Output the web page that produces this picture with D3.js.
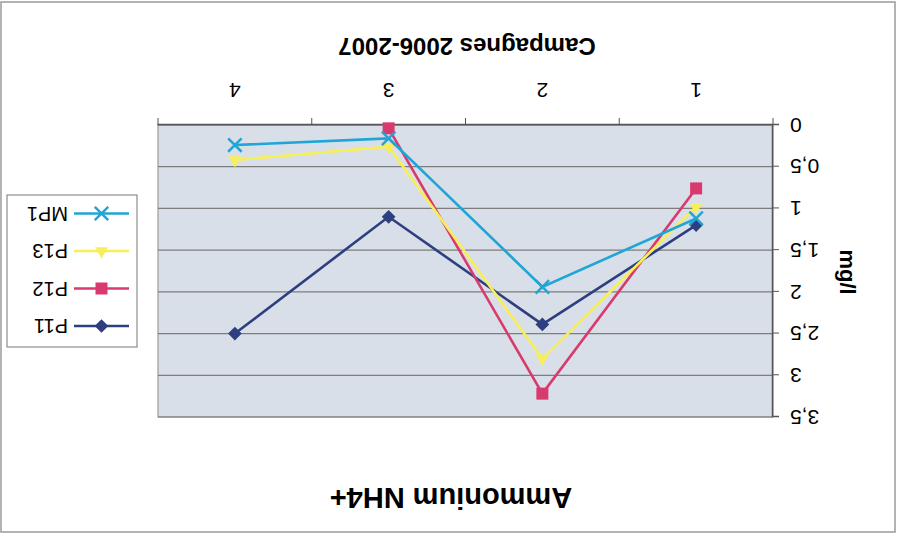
<!DOCTYPE html>
<html>
<head>
<meta charset="utf-8">
<script src="https://cdn.jsdelivr.net/npm/d3@7"></script>
<style>
  body { margin: 0; background: #fff; }
  text { font-family: "Liberation Sans", Arial, sans-serif; fill: #000; }
</style>
</head>
<body>
<svg width="897" height="540"></svg>
<script>
var campagnes = [1, 2, 3, 4];
var yTicks = [0, 0.5, 1, 1.5, 2, 2.5, 3, 3.5];
var p11 = [1.2, 2.39, 1.1, 2.5];
var p12 = [0.76, 3.22, 0.04, null];
var p13 = [0.98, 2.8, 0.26, 0.42];
var mp1 = [1.12, 1.94, 0.16, 0.24];

var series = [
  { name: 'P11', values: p11, color: '#2e3f80', marker: 'diamond' },
  { name: 'P12', values: p12, color: '#d93a6e', marker: 'square' },
  { name: 'P13', values: p13, color: '#f7ef5a', marker: 'triangle' },
  { name: 'MP1', values: mp1, color: '#1fa6d6', marker: 'cross' }
];

var svg = d3.select('svg'),
  width = +svg.attr('width'),
  height = +svg.attr('height');

svg.append('rect').attr('width', width).attr('height', height).attr('fill', '#fff');

// the whole scan is turned upside down
var g = svg.append('g').attr('transform', 'rotate(180 ' + width / 2 + ' ' + height / 2 + ')');

g.append('rect')
  .attr('x', 2).attr('y', 8)
  .attr('width', 894).attr('height', 530)
  .attr('fill', '#fff')
  .attr('stroke', '#9a9a9a')
  .attr('stroke-width', 1.5);

var plot = { left: 124, right: 739, top: 123, bottom: 415 };

var x = d3.scaleBand().domain(campagnes).range([plot.left, plot.right]);
var y = d3.scaleLinear().domain([0, 3.5]).range([plot.bottom, plot.top]);

g.append('rect')
  .attr('x', plot.left).attr('y', plot.top)
  .attr('width', plot.right - plot.left).attr('height', plot.bottom - plot.top)
  .attr('fill', '#d8dfe8')
  .attr('stroke', '#8a8a8a');

// gridlines
g.append('g')
  .selectAll('line')
  .data(yTicks)
  .enter()
  .append('line')
  .attr('x1', plot.left).attr('x2', plot.right)
  .attr('y1', function (d) { return y(d); })
  .attr('y2', function (d) { return y(d); })
  .attr('stroke', '#7d7d7d')
  .attr('stroke-width', 1.2);

// y axis
var yAxis = g.append('g')
  .attr('transform', 'translate(' + plot.left + ',0)')
  .call(d3.axisLeft(y).tickValues(yTicks).tickSize(6).tickPadding(11)
    .tickFormat(function (d) { return String(d).replace('.', ','); }));
yAxis.select('.domain').attr('stroke', '#555').attr('stroke-width', 1.5);
yAxis.selectAll('.tick line').attr('stroke', '#555');
yAxis.selectAll('.tick text').style('font-size', '21px');

// x axis: labels centred, tick marks between categories
var xAxis = g.append('g')
  .attr('transform', 'translate(0,' + plot.bottom + ')')
  .call(d3.axisBottom(x).tickSize(0).tickPadding(27));
xAxis.select('.domain').attr('stroke', '#555').attr('stroke-width', 1.5);
xAxis.selectAll('.tick text').style('font-size', '21px');

var edges = campagnes.map(function (c) { return x(c); }).concat([plot.right]);
g.append('g')
  .selectAll('line')
  .data(edges)
  .enter()
  .append('line')
  .attr('x1', function (d) { return d; })
  .attr('x2', function (d) { return d; })
  .attr('y1', plot.bottom).attr('y2', plot.bottom + 7)
  .attr('stroke', '#555');

function cx(i) { return x(campagnes[i]) + x.bandwidth() / 2; }

var line = d3.line()
  .defined(function (d) { return d != null; })
  .x(function (d, i) { return cx(i); })
  .y(function (d) { return y(d); });

function drawMarker(sel, type, color, px, py) {
  if (type === 'diamond') {
    sel.append('path').attr('d', d3.symbol(d3.symbolDiamond2, 120)())
      .attr('transform', 'translate(' + px + ',' + py + ')').attr('fill', color);
  } else if (type === 'square') {
    sel.append('rect').attr('x', px - 6).attr('y', py - 6)
      .attr('width', 12).attr('height', 12).attr('fill', color);
  } else if (type === 'triangle') {
    sel.append('path').attr('d', d3.symbol(d3.symbolTriangle2, 120)())
      .attr('transform', 'translate(' + px + ',' + py + ')').attr('fill', color);
  } else {
    sel.append('path').attr('d', d3.symbol(d3.symbolTimes, 120)())
      .attr('transform', 'translate(' + px + ',' + py + ')')
      .attr('fill', 'none').attr('stroke', color).attr('stroke-width', 2.5);
  }
}

series.forEach(function (s) {
  g.append('path')
    .datum(s.values)
    .attr('d', line)
    .attr('fill', 'none')
    .attr('stroke', s.color)
    .attr('stroke-width', 2.6);
  var mg = g.append('g');
  s.values.forEach(function (v, i) {
    if (v != null) drawMarker(mg, s.marker, s.color, cx(i), y(v));
  });
});

// titles
g.append('text')
  .attr('x', 446).attr('y', 52)
  .attr('text-anchor', 'middle')
  .style('font-size', '29px').style('font-weight', 'bold')
  .text('Ammonium NH4+');

g.append('text')
  .attr('x', 430).attr('y', 502)
  .attr('text-anchor', 'middle')
  .style('font-size', '24px').style('font-weight', 'bold')
  .text('Campagnes 2006-2007');

g.append('text')
  .attr('transform', 'translate(57,268) rotate(-90)')
  .attr('text-anchor', 'middle')
  .style('font-size', '22px').style('font-weight', 'bold')
  .text('mg/l');

// legend
var legend = g.append('g');
legend.append('rect')
  .attr('x', 760).attr('y', 193)
  .attr('width', 130).attr('height', 152)
  .attr('fill', '#fff')
  .attr('stroke', '#777');

series.forEach(function (s, i) {
  var ly = 214 + i * 37.5;
  legend.append('line')
    .attr('x1', 768).attr('x2', 823)
    .attr('y1', ly).attr('y2', ly)
    .attr('stroke', s.color).attr('stroke-width', 2.6);
  drawMarker(legend, s.marker, s.color, 795.5, ly);
  legend.append('text')
    .attr('x', 829).attr('y', ly + 7)
    .style('font-size', '20px')
    .text(s.name);
});
</script>
</body>
</html>
